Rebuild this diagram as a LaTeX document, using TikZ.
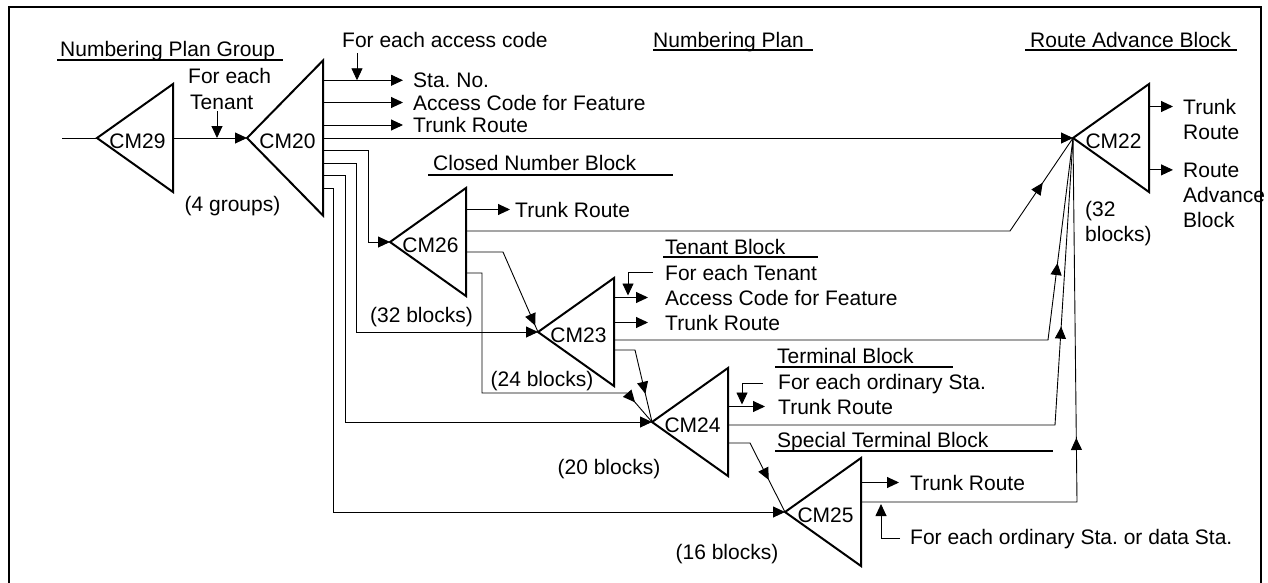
\documentclass[tikz,border=0pt]{standalone}
\usepackage{fontspec}
\setmainfont{Liberation Sans}
\usetikzlibrary{arrows.meta,decorations.markings,calc}

\tikzset{
  tri/.style={line width=2pt, line join=miter},
  conn/.style={line width=0.9pt},
  arr/.style={conn, -{Triangle[length=12pt,width=11pt]}},
  lbl/.style={inner sep=0pt, anchor=base west},
  clbl/.style={inner sep=0pt, anchor=base},
  uline/.style={line width=1.8pt},
  midarrow/.style={conn, postaction={decorate},
    decoration={markings, mark=at position #1 with {\arrow{Triangle[length=12pt,width=11pt]}}}},
}

% a left-pointing block triangle: name, apex x, apex y, half height, label
\newcommand\cmtri[5]{%
  \coordinate (#1) at (#2,#3);
  \coordinate (#1-r) at ($(#1)+(76,0)$);
  \draw[tri] (#1) -- ++(76,-#4) -- ++(0,2*#4) -- cycle;
  \node[clbl] (#1-t) at ($(#1)+(40.5,10)$) {#5};
}

\begin{document}
\begin{tikzpicture}[x=1pt,y=-1pt,font=\fontsize{21}{25}\selectfont\frenchspacing]
\useasboundingbox (0,0) rectangle (1268,582);
% outer frame, open at the lower page edge
\draw[line width=2pt] (9,590) -- (9,7) -- (1261,7) -- (1261,590);

% blocks
\cmtri{cm29}{97}{138}{54}{CM29}
\cmtri{cm20}{247}{138}{77.5}{CM20}
\cmtri{cm22}{1073}{138}{54}{CM22}
\cmtri{cm26}{390}{242}{54}{CM26}
\cmtri{cm23}{538}{332}{54}{CM23}
\cmtri{cm24}{652}{422}{54}{CM24}
\cmtri{cm25}{785}{512}{54}{CM25}

% headings
\node[lbl] (npg) at (60,56.5) {Numbering Plan Group};
\draw[uline] (57,60) -- (283,60);
\node[lbl] (npl) at (653,47.5) {Numbering Plan};
\draw[uline] (653,50) -- (813,50);
\node[lbl] (rab) at (1030,47.5) {Route Advance Block};
\draw[uline] (1025,50) -- (1237,50);
\node[lbl] (cnb) at (433,170) {Closed Number Block};
\draw[uline] (428,175) -- (673,175);
\node[lbl] (tb) at (665,254) {Tenant Block};
\draw[uline] (663,257) -- (818,257);
\node[lbl] (tmb) at (777,363) {Terminal Block};
\draw[uline] (775,367) -- (953,367);
\node[lbl] (stb) at (777,447) {Special Terminal Block};
\draw[uline] (775,451) -- (1053,451);

% numbering plan group
\coordinate (in) at (62,138);
\draw[conn] (in) -- (cm29);
\draw[arr] (cm29-r) -- (cm20);
\node[lbl] (fet1) at (188,83) {For each};
\node[lbl] (fet2) at (190,109) {Tenant};
\coordinate (ft) at (217,111);
\draw[arr] (ft) -- (ft |- cm20);
\node[clbl] (g4) at (232.5,211) {(4 groups)};

% numbering plan outputs
\node[lbl] (feac) at (342,47) {For each access code};
\node[lbl] (sta) at (413,87.5) {Sta. No.};
\node[lbl] (acf1) at (413,110) {Access Code for Feature};
\node[lbl] (tr20) at (413,132.5) {Trunk Route};
\draw[arr] (cm20-r |- sta.west) -- ([xshift=-10pt]sta.west);
\draw[arr] (cm20-r |- acf1.west) -- ([xshift=-10pt]acf1.west);
\draw[arr] (cm20-r |- tr20.west) -- ([xshift=-10pt]tr20.west);
\coordinate (fac) at (357,53);
\draw[arr] (fac) -- (fac |- sta.west);
\draw[arr] (cm20-r) -- (cm22);
\draw[arr] (cm20-r |- 0,150) -| (368,242) -- (cm26);
\draw[arr] (cm20-r |- 0,163) -| (356,332) -- (cm23);
\draw[arr] (cm20-r |- 0,175) -| (345,422) -- (cm24);
\draw[arr] (cm20-r |- 0,188) -| (333,512) -- (cm25);

% closed number block
\node[lbl] (tr26) at (515,217) {Trunk Route};
\draw[arr] (cm26-r |- tr26.west) -- ([xshift=-5pt]tr26.west);
\node[clbl] (b32a) at (421.5,322) {(32 blocks)};
\draw[conn, midarrow=-54pt] (cm26-r |- 0,231) -- (1010,231) -- (cm22);
\draw[conn, midarrow=-7pt] (cm26-r |- 0,252) -- (503,252) -- (cm23);
\draw[conn, midarrow=-26pt] (cm26-r |- 0,273) -| (482,393) -- (627,393) -- (cm24);

% tenant block
\node[lbl] (fet3) at (665,280) {For each Tenant};
\node[lbl] (acf2) at (665,305) {Access Code for Feature};
\node[lbl] (tr23) at (665,330) {Trunk Route};
\draw[arr] (cm23-r |- acf2.west) -- ([xshift=-17pt]acf2.west);
\draw[arr] (cm23-r |- tr23.west) -- ([xshift=-17pt]tr23.west);
\draw[arr] ([xshift=-12pt]fet3.west) -| ([xshift=-37pt,yshift=2pt]acf2.west);
\node[clbl] (b24) at (542,386) {(24 blocks)};
\draw[conn, midarrow=-126pt] (cm23-r |- 0,340) -- (1048,340) -- (cm22);
\draw[conn, midarrow=-29pt] (cm23-r |- 0,350) -- (635,350) -- (cm24);

% terminal block
\node[lbl] (feo) at (778,389) {For each ordinary Sta.};
\node[lbl] (tr24) at (778,414) {Trunk Route};
\draw[arr] (cm24-r |- tr24.west) -- ([xshift=-13pt]tr24.west);
\draw[arr] ([xshift=-15pt]feo.west) -| ([xshift=-36pt,yshift=2pt]tr24.west);
\node[clbl] (b20) at (609,474) {(20 blocks)};
\draw[conn, midarrow=-189pt] (cm24-r |- 0,425) -- (1055,425) -- (cm22);
\draw[conn, midarrow=-36pt] (cm24-r |- 0,443) -- (750,443) -- (cm25);

% special terminal block
\node[lbl] (tr25) at (910,490) {Trunk Route};
\draw[arr] (cm25-r |- tr25.west) -- ([xshift=-11pt]tr25.west);
\node[lbl] (feod) at (910,544) {For each ordinary Sta. or data Sta.};
\coordinate (cm25-o2) at (cm25-r |- 0,502);
\draw[arr] ([xshift=-10pt]feod.west) -| ([xshift=20pt,yshift=-2pt]cm25-o2);
\node[clbl] (b16) at (727,559) {(16 blocks)};
\draw[conn, midarrow=-300pt] (cm25-o2) -- (1077,502) -- (cm22);

% route advance block
\node[lbl] (tr22a) at (1183,114) {Trunk};
\node[lbl] (tr22b) at (1183,139) {Route};
\node[lbl] (ra1) at (1183,177) {Route};
\node[lbl] (ra2) at (1183,202) {Advance};
\node[lbl] (ra3) at (1183,227) {Block};
\draw[arr] (cm22-r |- tr22a.west) -- ([xshift=-10pt]tr22a.west);
\draw[arr] (cm22-r |- ra1.west) -- ([xshift=-10pt]ra1.west);
\node[lbl] (b32c1) at (1085,216) {(32};
\node[lbl] (b32c2) at (1085,241) {blocks)};
\end{tikzpicture}
\end{document}
